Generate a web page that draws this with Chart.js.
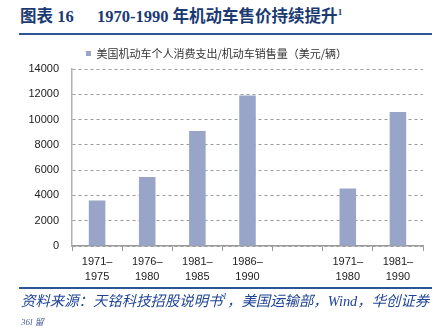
<!DOCTYPE html>
<html>
<head>
<meta charset="utf-8">
<script src="https://cdn.jsdelivr.net/npm/chart.js@4.4.1/dist/chart.umd.min.js"></script>
<style>
  html, body { margin: 0; padding: 0; background: #fff; }
  body { width: 442px; height: 328px; position: relative; overflow: hidden; }
  #wrap { position: absolute; left: 0; top: 0; width: 442px; height: 290px; }
  .t { position: absolute; white-space: nowrap; }
  #title1, #title2 { top: 6px; font-family: "Liberation Serif", "Noto Sans CJK SC", serif; font-weight: bold; font-size: 16.5px; color: #1B3A72; line-height: 22px; }
  #title1 { left: 20px; }
  #title2 { left: 97px; }
  sup { font-size: 9px; vertical-align: 7px; line-height: 0; }
  .rule { position: absolute; left: 19px; width: 413px; height: 2px; background: #2B5597; }
  #src { left: 21px; top: 291px; font-family: "Liberation Serif", "Noto Sans CJK SC", serif; font-style: italic; font-size: 14.4px; color: #1F4396; line-height: 20px; }
  #pg { left: 21px; top: 316px; font-family: "Liberation Serif", "Noto Sans CJK SC", serif; font-style: italic; font-size: 9px; color: #4A5F99; line-height: 12px; }
</style>
</head>
<body>
<div id="title1" class="t">图表 16</div>
<div id="title2" class="t">1970-1990 年机动车售价持续提升<sup>1</sup></div>
<div class="rule" style="top:33px"></div>
<div id="wrap"><canvas id="c" width="442" height="290"></canvas></div>
<div class="rule" style="top:287px"></div>
<div id="src" class="t">资料来源：天铭科技招股说明书<sup>1</sup>，美国运输部，Wind，华创证券</div>
<div id="pg" class="t">36l 留</div>
<script>
const categories = [['1971–','1975'], ['1976–','1980'], ['1981–','1985'], ['1986–','1990'], '', ['1971–','1980'], ['1981–','1990']];
const seriesName = '美国机动车个人消费支出/机动车销售量（美元/辆）';
const values = [3600, 5450, 9100, 11900, null, 4550, 10600];
const yMin = 0, yMax = 14000, yStep = 2000;

new Chart(document.getElementById('c'), {
  type: 'bar',
  data: {
    labels: categories,
    datasets: [{
      label: seriesName,
      data: values,
      backgroundColor: '#99A5C8',
      borderWidth: 0,
      barPercentage: 0.33,
      categoryPercentage: 1.0
    }]
  },
  options: {
    responsive: false,
    animation: false,
    events: [],
    layout: { padding: { left: 10, right: 19, top: 38, bottom: 0 } },
    plugins: {
      tooltip: { enabled: false },
      legend: {
        display: true,
        position: 'top',
        labels: {
          boxWidth: 5, boxHeight: 5, padding: 10,
          color: '#333',
          font: { family: '"Noto Sans CJK SC", sans-serif', size: 11 }
        }
      }
    },
    scales: {
      x: {
        afterFit: s => { s.height = 44; },
        grid: { offset: true, drawOnChartArea: false, drawTicks: true, tickLength: 5, color: '#9A9A9A' },
        border: { display: true, color: '#9A9A9A', width: 1.5 },
        ticks: {
          color: '#222', padding: 4, maxRotation: 0, autoSkip: false,
          font: { family: '"Liberation Sans", Arial, sans-serif', size: 11, lineHeight: 1.35 }
        }
      },
      y: {
        min: yMin, max: yMax,
        afterFit: s => { s.width = 62; },
        grid: { drawTicks: false, color: '#9C9C9C', lineWidth: 1 },
        border: { display: true, color: '#B0B0B0', width: 1.5, dash: [3, 3] },
        ticks: {
          stepSize: yStep, padding: 13, color: '#222',
          callback: v => String(v),
          font: { family: '"Liberation Sans", Arial, sans-serif', size: 11 }
        }
      }
    }
  }
});
</script>
</body>
</html>
